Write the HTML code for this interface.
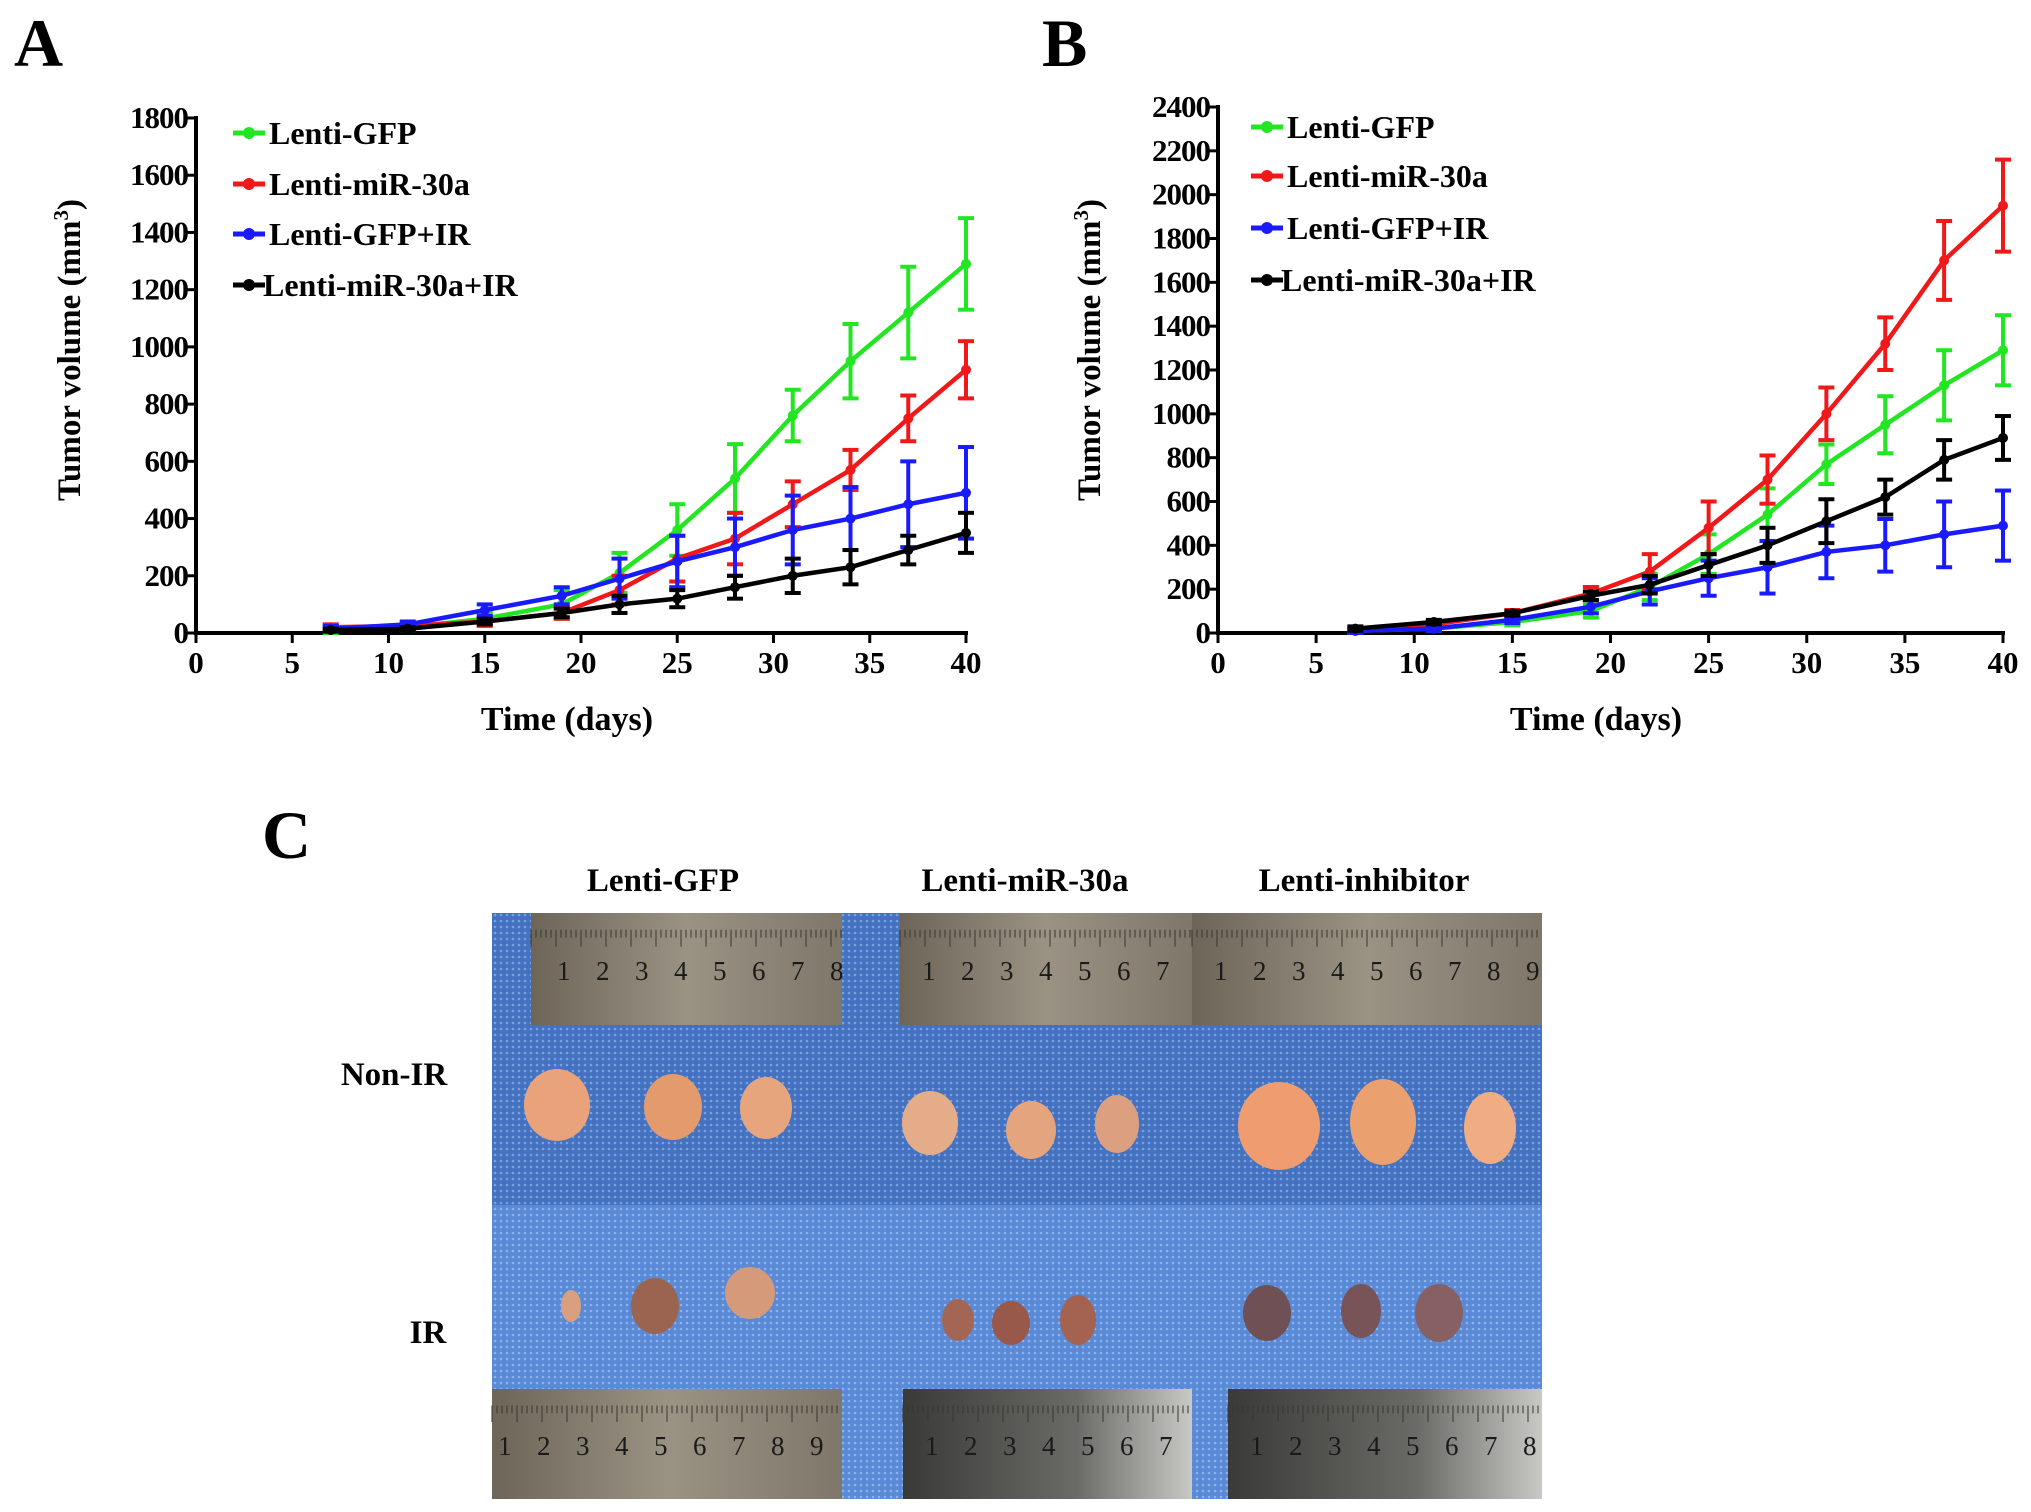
<!DOCTYPE html>
<html><head><meta charset="utf-8"><style>
body{margin:0;background:#fff}
svg{display:block;font-family:"Liberation Serif",serif;font-weight:bold}
</style></head><body>
<svg id="s" width="2031" height="1512" viewBox="0 0 2031 1512">
<defs>
<pattern id="mesh" width="6" height="6" patternUnits="userSpaceOnUse"><rect width="6" height="6" fill="#4472c0"/><circle cx="3" cy="3" r="1.3" fill="#7aa0dc"/></pattern>
<pattern id="mesh2" width="6" height="6" patternUnits="userSpaceOnUse"><rect width="6" height="6" fill="#5a8ad6"/><circle cx="3" cy="3" r="1.3" fill="#8cb2ee"/></pattern>
<linearGradient id="rul" x1="0" x2="1"><stop offset="0" stop-color="#6d6558"/><stop offset="0.5" stop-color="#9a9384"/><stop offset="1" stop-color="#7f776a"/></linearGradient>
<linearGradient id="rul2" x1="0" x2="1"><stop offset="0" stop-color="#3a3a38"/><stop offset="0.6" stop-color="#6a6a66"/><stop offset="1" stop-color="#c8c8c4"/></linearGradient>
</defs>
<text x="14" y="66" font-size="68">A</text>
<text x="1042" y="66" font-size="68">B</text>
<text x="262" y="858" font-size="68">C</text>
<g id="chartA"></g>
<g id="chartB"></g>
<g id="photo"></g>
</svg>
<script>
const days = [7,11,15,19,22,25,28,31,34,37,40];
const seriesNames = ["Lenti-GFP","Lenti-miR-30a","Lenti-GFP+IR","Lenti-miR-30a+IR"];
const seriesColors = ["#22e622","#f01818","#1a1aff","#000000"];
const aGFP = [10,20,50,100,210,360,540,760,950,1120,1290];
const aGFPErr = [10,10,20,50,70,90,120,90,130,160,160];
const aMiR = [20,25,40,70,150,260,330,450,570,750,920];
const aMiRErr = [10,10,15,20,50,80,90,80,70,80,100];
const aGFPIR = [15,30,80,130,190,250,300,360,400,450,490];
const aGFPIRErr = [10,10,20,30,70,90,100,120,110,150,160];
const aMiRIR = [10,15,40,70,100,120,160,200,230,290,350];
const aMiRIRErr = [5,5,10,15,30,30,40,60,60,50,70];
const bGFP = [10,20,50,100,210,360,540,770,950,1130,1290];
const bGFPErr = [10,10,15,30,60,90,120,90,130,160,160];
const bMiR = [10,40,90,180,280,480,700,1000,1320,1700,1950];
const bMiRErr = [10,10,15,30,80,120,110,120,120,180,210];
const bGFPIR = [10,20,60,120,190,250,300,370,400,450,490];
const bGFPIRErr = [10,10,15,30,60,80,120,120,120,150,160];
const bMiRIR = [20,50,90,170,220,310,400,510,620,790,890];
const bMiRIRErr = [10,10,10,20,40,50,80,100,80,90,100];
const xTicks = [0,5,10,15,20,25,30,35,40];
const yTicksA = [0,200,400,600,800,1000,1200,1400,1600,1800];
const yTicksB = [0,200,400,600,800,1000,1200,1400,1600,1800,2000,2200,2400];
const NS="http://www.w3.org/2000/svg";
function mk(p,tag,attrs,txt){const e=document.createElementNS(NS,tag);for(const k in attrs)e.setAttribute(k,attrs[k]);if(txt!==undefined)e.textContent=txt;p.appendChild(e);return e;}
function chart(g,cfg){
  const xs=v=>cfg.x0+(v/40)*(cfg.x1-cfg.x0);
  const ys=v=>cfg.y0-(v/cfg.ymax)*(cfg.y0-cfg.y1);
  mk(g,"line",{x1:cfg.x0,y1:cfg.y0,x2:cfg.x0,y2:cfg.y1-2,stroke:"#000","stroke-width":4});
  mk(g,"line",{x1:cfg.x0-2,y1:cfg.y0,x2:cfg.x1+2,y2:cfg.y0,stroke:"#000","stroke-width":4});
  cfg.yt.forEach(t=>{const y=ys(t);
    mk(g,"line",{x1:cfg.x0-9,y1:y,x2:cfg.x0,y2:y,stroke:"#000","stroke-width":3});
    const l=mk(g,"text",{x:cfg.x0-8,y:y+10,"font-size":31,"text-anchor":"end","letter-spacing":-1});
    l.textContent=t;
    
    });
  xTicks.forEach(t=>{const x=xs(t);
    mk(g,"line",{x1:x,y1:cfg.y0,x2:x,y2:cfg.y0+10,stroke:"#000","stroke-width":3});
    const l=mk(g,"text",{x:x,y:cfg.y0+40,"font-size":31,"text-anchor":"middle"},t);
    
    });
  const yt=mk(g,"text",{x:0,y:0,"font-size":33,"text-anchor":"middle",transform:`translate(${cfg.ytx},350) rotate(-90)`});
  
  
  yt.innerHTML='Tumor volume (mm<tspan dy="-12" font-size="21">3</tspan><tspan dy="12">)</tspan>';
  const xt=mk(g,"text",{x:cfg.xtx,y:730,"font-size":34,"text-anchor":"middle"},"Time (days)");
  
  
  cfg.series.forEach((s,i)=>{
    const c=seriesColors[i];
    const sg=mk(g,"g",{});
    
    
    s.v.forEach((v,j)=>{const x=xs(days[j]);
      mk(sg,"line",{x1:x,y1:ys(v-s.e[j]),x2:x,y2:ys(v+s.e[j]),stroke:c,"stroke-width":4});
      [v-s.e[j],v+s.e[j]].forEach(w=>mk(sg,"line",{x1:x-8,y1:ys(w),x2:x+8,y2:ys(w),stroke:c,"stroke-width":4}));});
    mk(sg,"polyline",{points:s.v.map((v,j)=>xs(days[j])+","+ys(v)).join(" "),fill:"none",stroke:c,"stroke-width":4.5});
    s.v.forEach((v,j)=>{const m=mk(sg,"circle",{cx:xs(days[j]),cy:ys(v),r:5,fill:c});
      
      });
    const ly=cfg.ly[i];
    const le=mk(g,"g",{});
    
    
    mk(le,"line",{x1:cfg.lx,y1:ly,x2:cfg.lx+32,y2:ly,stroke:c,"stroke-width":5});
    mk(le,"circle",{cx:cfg.lx+16,cy:ly,r:6,fill:c});
    mk(le,"text",{x:cfg.lx+(i==3?30:36),y:ly+11,"font-size":32},seriesNames[i]);
  });
}
chart(document.getElementById("chartA"),{x0:196,x1:966,y0:633,y1:118,ymax:1800,yt:yTicksA,ytx:80,xtx:567,lx:233,ly:[133,184,234,285],
  series:[{v:aGFP,e:aGFPErr},{v:aMiR,e:aMiRErr},{v:aGFPIR,e:aGFPIRErr},{v:aMiRIR,e:aMiRIRErr}]});
chart(document.getElementById("chartB"),{x0:1218,x1:2003,y0:633,y1:107,ymax:2400,yt:yTicksB,ytx:1100,xtx:1596,lx:1251,ly:[127,176,228,280],
  series:[{v:bGFP,e:bGFPErr},{v:bMiR,e:bMiRErr},{v:bGFPIR,e:bGFPIRErr},{v:bMiRIR,e:bMiRIRErr}]});
const p=document.getElementById("photo");
const colLabels=[["Lenti-GFP",663],["Lenti-miR-30a",1025],["Lenti-inhibitor",1364]];
colLabels.forEach(c=>{const t=mk(p,"text",{x:c[1],y:891,"font-size":33,"text-anchor":"middle"},c[0]);
  
  });
const r1=mk(p,"text",{x:394,y:1085,"font-size":33,"text-anchor":"middle"},"Non-IR");


const r2=mk(p,"text",{x:428,y:1343,"font-size":33,"text-anchor":"middle"},"IR");


mk(p,"rect",{x:492,y:913,width:1050,height:292,fill:"url(#mesh)"});
mk(p,"rect",{x:492,y:1205,width:1050,height:294,fill:"url(#mesh2)"});
function ruler(x,y,w,h,n,fill,off){mk(p,"rect",{x:x,y:y,width:w,height:h,fill:fill});
  for(let k=0;k<w;k+=5)mk(p,"line",{x1:x+k,y1:y+h*0.15,x2:x+k,y2:y+h*(k%25==0?0.3:0.22),stroke:"#3a3530","stroke-width":1});
  for(let k=1;k<=n;k++)mk(p,"text",{x:x+off+(k-1)*39,y:y+h*0.6,"font-size":27,"font-weight":"normal",fill:"#1a1a1a"},k);}
ruler(531,913,311,112,8,"url(#rul)",26);
ruler(900,913,292,112,7,"url(#rul)",22);
ruler(1192,913,350,112,9,"url(#rul)",22);
ruler(492,1389,350,110,9,"url(#rul)",6);
ruler(903,1389,289,110,7,"url(#rul2)",22);
ruler(1228,1389,314,110,8,"url(#rul2)",22);
const tumors=[[557,1105,33,36,"#e9a27a"],[673,1107,29,33,"#e39a6c"],[766,1108,26,31,"#e7a57e"],
[930,1123,28,32,"#e4ac88"],[1031,1130,25,29,"#e3a47e"],[1117,1124,22,29,"#dca080"],
[1279,1126,41,44,"#ee9c70"],[1383,1122,33,43,"#eba070"],[1490,1128,26,36,"#f0ad84"],
[571,1306,10,16,"#d8a080"],[655,1306,24,28,"#9b6450"],[750,1293,25,26,"#d49a7a"],
[958,1320,16,21,"#a46654"],[1011,1323,19,22,"#98584a"],[1078,1320,18,25,"#a46250"],
[1267,1313,24,28,"#6e5055"],[1361,1311,20,27,"#785358"],[1439,1313,24,29,"#866063"]];
tumors.forEach(t=>{const e=mk(p,"ellipse",{cx:t[0],cy:t[1],rx:t[2],ry:t[3],fill:t[4]});
  
  });
</script>
</body></html>
